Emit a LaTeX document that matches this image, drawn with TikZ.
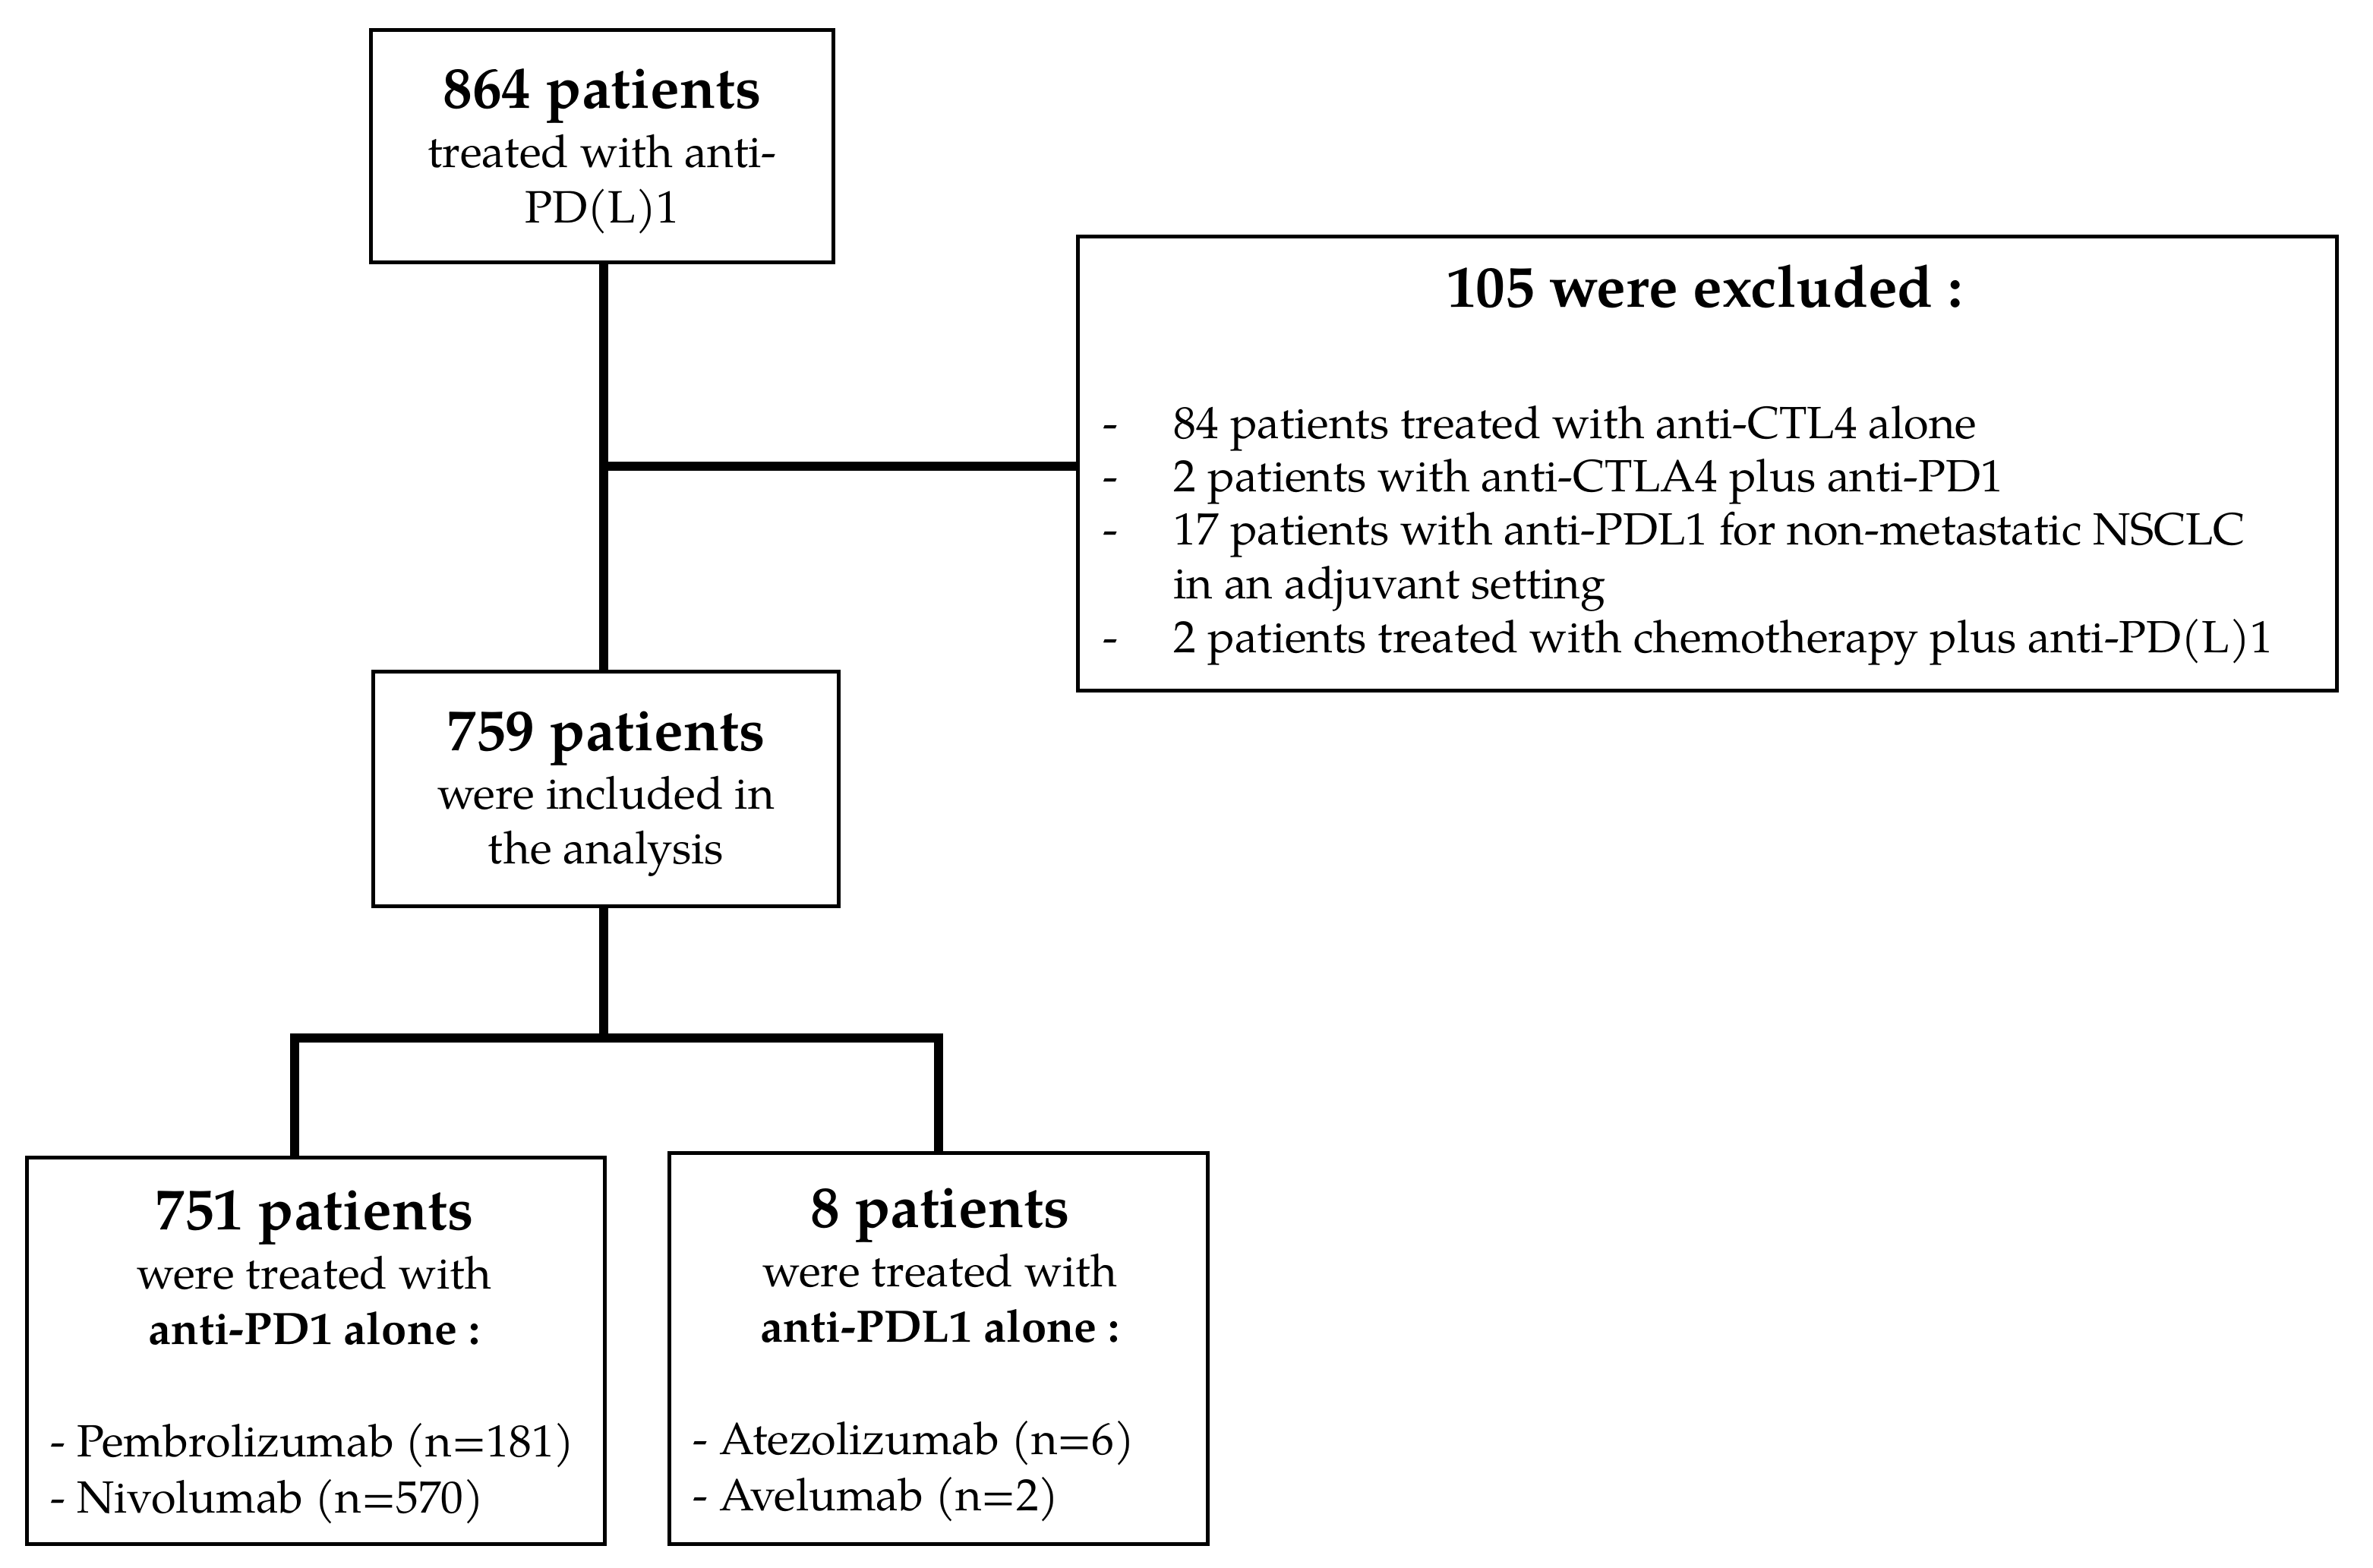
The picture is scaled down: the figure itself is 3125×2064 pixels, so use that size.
\documentclass[tikz,border=0pt]{standalone}
\usepackage{fontspec}
\setmainfont{TeX Gyre Pagella}
\begin{document}
\begin{tikzpicture}[x=0.01cm,y=-0.01cm,
  box/.style={draw=black,line width=1.4pt,inner sep=0pt,fill=white},
  conn/.style={draw=black,line width=3.6pt,line join=miter},
  ttl/.style={anchor=base,inner sep=0pt,font=\fontsize{22}{26}\selectfont\bfseries},
  txt/.style={anchor=base,inner sep=0pt,font=\fontsize{17}{20}\selectfont},
  btxt/.style={anchor=base,inner sep=0pt,font=\fontsize{17}{20}\selectfont\bfseries},
  ltxt/.style={anchor=base west,inner sep=0pt,font=\fontsize{16.9}{20}\selectfont}]
\useasboundingbox (0,0) rectangle (3125,2064);
% boxes
\node[box,minimum width=6.08cm,minimum height=3.05cm] (top) at (793,192.5) {};
\node[box,minimum width=16.57cm,minimum height=5.97cm] (excl) at (2248.5,610.5) {};
\node[box,minimum width=6.12cm,minimum height=3.08cm] (incl) at (798,1039) {};
\node[box,minimum width=7.60cm,minimum height=5.08cm] (pd1) at (416,1779) {};
\node[box,minimum width=7.08cm,minimum height=5.14cm] (pdl1) at (1236,1776) {};
% connectors
\coordinate (j1) at (795,614);
\coordinate (j2) at (795,1367);
\coordinate (bl) at (388,1367);
\coordinate (br) at (1236,1367);
\draw[conn] (top.south -| j1) -- (incl.north -| j1);
\draw[conn] (j1) -- (excl.west |- j1);
\draw[conn] (incl.south -| j2) -- (j2);
\draw[conn] (bl |- pd1.north) -- (bl) -- (br) -- (br |- pdl1.north);
% top box text
\node[ttl] (t1) at (793,143) {864 patients};
\node[txt] (t2) at (793,221) {treated with anti-};
\node[txt] (t3) at (793,294) {PD(L)1};
% excluded
\node[ttl] (e0) at (2245,405) {105 were excluded :};
\node[ltxt] (d1) at (1452,577) {-};
\node[ltxt] (d2) at (1452,647) {-};
\node[ltxt] (d3) at (1452,717) {-};
\node[ltxt] (d5) at (1452,859) {-};
\node[ltxt] (e1) at (1545,577) {84 patients treated with anti-CTL4 alone};
\node[ltxt] (e2) at (1545,647) {2 patients with anti-CTLA4 plus anti-PD1};
\node[ltxt] (e3) at (1545,717) {17 patients with anti-PDL1 for non-metastatic NSCLC};
\node[ltxt] (e4) at (1545,788) {in an adjuvant setting};
\node[ltxt] (e5) at (1545,859) {2 patients treated with chemotherapy plus anti-PD(L)1};
% included
\node[ttl] (i1) at (798,988) {759 patients};
\node[txt] (i2) at (798,1065) {were included in};
\node[txt] (i3) at (798,1137) {the analysis};
% anti-PD1
\node[ttl] (a1) at (414,1619) {751 patients};
\node[txt] (a2) at (414,1697) {were treated with};
\node[btxt] (a3) at (414,1770) {anti-PD1 alone :};
\node[ltxt] (a4) at (66,1918) {- Pembrolizumab (n=181)};
\node[ltxt] (a5) at (66,1992) {- Nivolumab (n=570)};
% anti-PDL1
\node[ttl] (b1) at (1238,1616) {8 patients};
\node[txt] (b2) at (1238,1694) {were treated with};
\node[btxt] (b3) at (1238,1767) {anti-PDL1 alone :};
\node[ltxt] (b4) at (912,1915) {- Atezolizumab (n=6)};
\node[ltxt] (b5) at (912,1989) {- Avelumab (n=2)};
\end{tikzpicture}
\end{document}
